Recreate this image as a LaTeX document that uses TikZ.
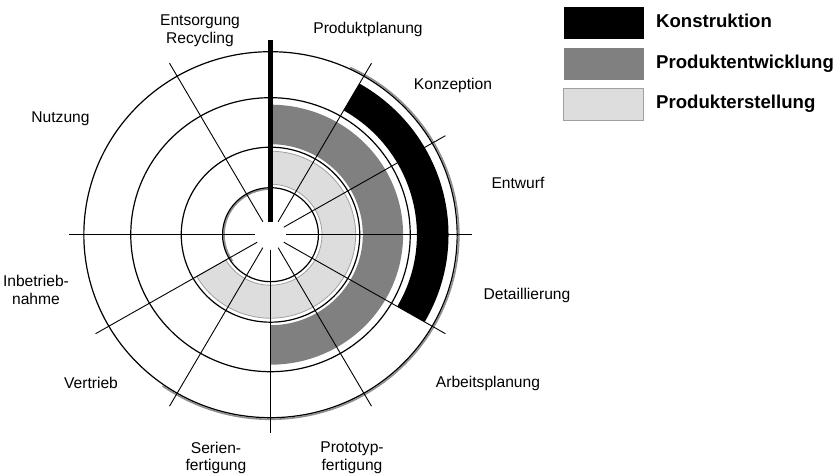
\documentclass[tikz,border=0pt]{standalone}
\usepackage{fontspec}
\setmainfont{Liberation Sans}
\begin{document}
\begin{tikzpicture}[x=1pt,y=1pt,
  lbl/.style={font=\fontsize{15.6}{17.5}\selectfont, align=center, inner sep=0pt},
  legtxt/.style={font=\fontsize{18.6}{20}\selectfont\bfseries, anchor=base west, inner sep=0pt},
  ring/.style={line width=1.2pt},
  shade/.style={line width=1.6pt, draw=shadowgray},
  spoke/.style={line width=0.9pt},
  legbox/.style={minimum width=80pt, minimum height=32pt, inner sep=0pt, anchor=north west},
]
\definecolor{darkband}{HTML}{808080}
\definecolor{lightband}{HTML}{DDDDDD}
\definecolor{lightedge}{HTML}{A0A0A0}
\definecolor{shadowgray}{HTML}{909090}
\useasboundingbox (0,0) rectangle (836,476);

% ---- wheel of life-cycle phases ----
\begin{scope}[shift={(270.5,241.3)}, xscale=1.02]
  % Produkterstellung band
  \filldraw[fill=lightband, draw=lightedge, line width=0.8pt]
    (90:50.5) arc[start angle=90, end angle=-150, radius=50.5]
    -- (-150:83.5) arc[start angle=-150, end angle=90, radius=83.5] -- cycle;
  % Produktentwicklung band
  \fill[darkband]
    (90:90.5) arc[start angle=90, end angle=-90, radius=90.5]
    -- (-90:130) arc[start angle=-90, end angle=90, radius=130] -- cycle;
  % Konstruktion band
  \fill[black]
    (60:143.5) arc[start angle=60, end angle=-30, radius=143.5]
    -- (-30:174.5) arc[start angle=-30, end angle=60, radius=174.5] -- cycle;
  % soft shadows along the inner and outer ring
  \draw[shade] (65:184.6) arc[start angle=65, end angle=-125, radius=184.6];
  \draw[shade] (90:45.6) arc[start angle=90, end angle=215, radius=45.6];
  % rings
  \foreach \r in {47,87.5,137,183} \draw[ring] (0,0) circle[radius=\r];
  % spokes between the phases
  \foreach \a in {60,30,0,-30,-60,-90,-120,-150,180,120}
    \draw[spoke] (\a:15) -- (\a:198);
  % start/end of the cycle
  \draw[line width=4.5pt] (90:13) -- (90:195);
\end{scope}

% ---- phase labels ----
\node[lbl] (entsorgung) at (200,445) {Entsorgung\\Recycling};
\node[lbl] (planung) at (368,446.7) {Produktplanung};
\node[lbl] (konzeption) at (453,391) {Konzeption};
\node[lbl] (entwurf) at (518,293.3) {Entwurf};
\node[lbl] (detail) at (527,181) {Detaillierung};
\node[lbl] (arbeit) at (488,92.7) {Arbeitsplanung};
\node[lbl] (prototyp) at (352,18) {Prototyp-\\fertigung};
\node[lbl] (serien) at (216,18) {Serien-\\fertigung};
\node[lbl] (vertrieb) at (91,93.3) {Vertrieb};
\node[lbl] (inbetrieb) at (36,186) {Inbetrieb-\\nahme};
\node[lbl] (nutzung) at (60.5,357.7) {Nutzung};

% ---- legend ----
\node[legbox, fill=black] (kbox) at (563.3,468.7) {};
\node[legbox, fill=darkband] (pbox) at (563.3,428.3) {};
\node[legbox, fill=lightband, draw=lightedge, line width=0.8pt] (ebox) at (563.3,387.7) {};
\node[legtxt] (ktxt) at (656,448.3) {Konstruktion};
\node[legtxt] (ptxt) at (656,407.8) {Produktentwicklung};
\node[legtxt] (etxt) at (656,367.3) {Produkterstellung};
\end{tikzpicture}
\end{document}
